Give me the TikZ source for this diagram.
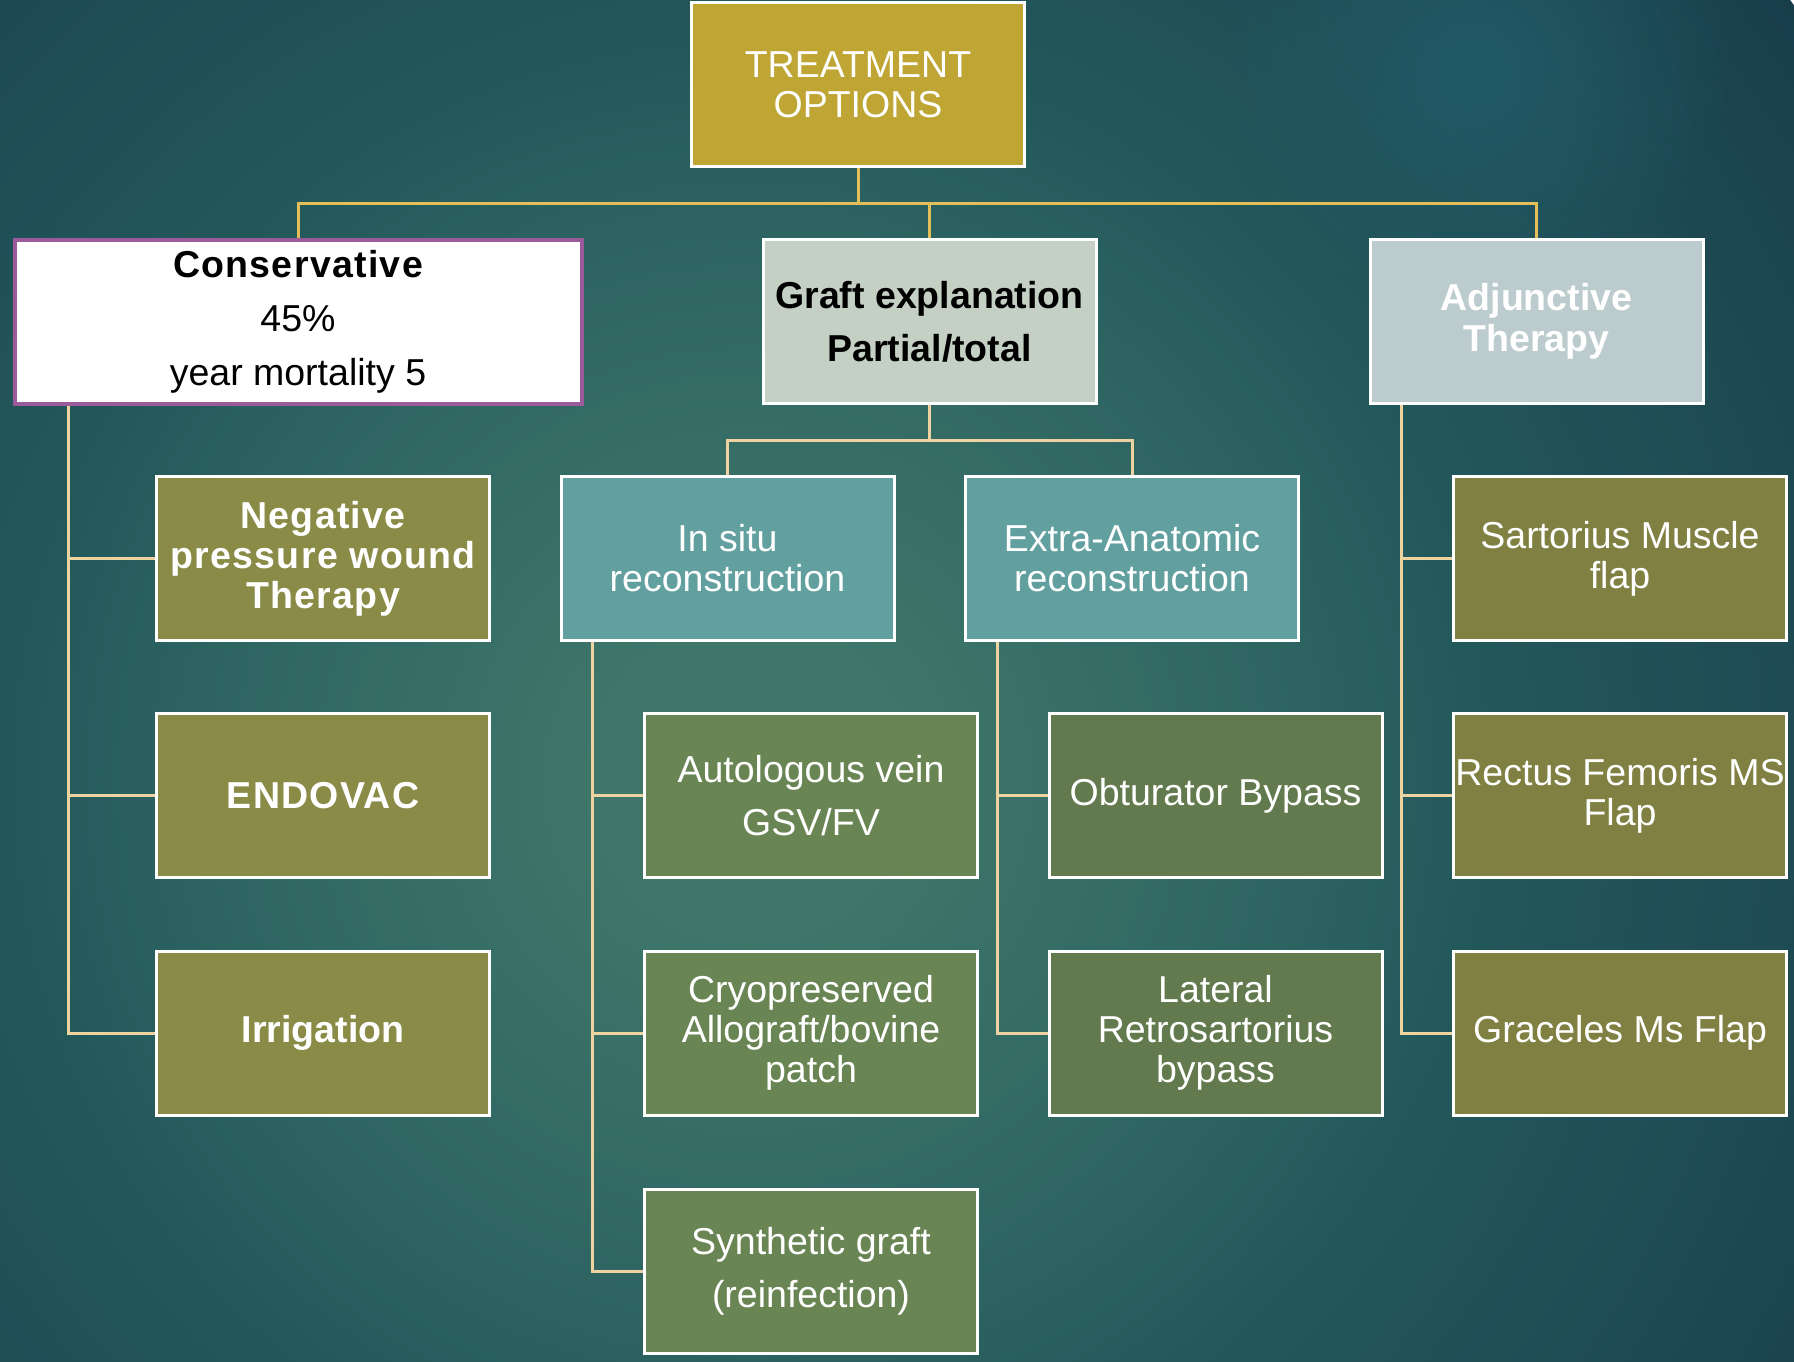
\documentclass[tikz,border=0pt]{standalone}
\usepackage{fontspec}
\setmainfont{Liberation Sans}
\newfontfamily\widesans[LetterSpace=3.5]{Liberation Sans}
\usepackage{xcolor}
\usepackage{tikz}
\usetikzlibrary{positioning,fadings}

\definecolor{bga}{HTML}{3E766A}
\definecolor{bgb}{HTML}{2D6462}
\definecolor{bgc}{HTML}{22575A}
\definecolor{bgd}{HTML}{1F4D55}
\definecolor{bge}{HTML}{183E4C}
\definecolor{glow}{HTML}{215A66}
\definecolor{gold}{HTML}{BFA533}
\definecolor{olive}{HTML}{8A8B47}
\definecolor{moss}{HTML}{6A8554}
\definecolor{sage}{HTML}{C3D0C3}
\definecolor{mist}{HTML}{BCCBCD}
\definecolor{lagoon}{HTML}{62A0A0}
\definecolor{plum}{HTML}{9B5B9B}
\definecolor{wire}{HTML}{ECD3A0}
\definecolor{wiretop}{HTML}{E4BE58}

\pgfdeclareradialshading{backdrop}{\pgfpoint{0bp}{0bp}}{%
  color(0bp)=(bga); color(3bp)=(bga); color(10.6bp)=(bgb); color(14.4bp)=(bgc);
  color(19.2bp)=(bgd); color(25bp)=(bge); color(50bp)=(bge)}
\tikzfading[name=softglow, inner color=transparent!0, outer color=transparent!100]

\begin{document}
\begin{tikzpicture}[
    x=1pt, y=-1pt,
    box/.style={draw=white, line width=3pt, minimum width=333pt, minimum height=164pt,
      inner sep=0pt, align=center, text=white, font=\fontsize{37.5}{40}\selectfont},
    option/.style={box, fill=olive},
    graftbox/.style={box, fill=moss},
    route/.style={box, fill=lagoon},
    flap/.style={box, fill=olive!92!black},
    trunk/.style={wiretop, line width=3pt},
    link/.style={wire, line width=3pt}
  ]
  \useasboundingbox (0,0) rectangle (1794,1361);
  \begin{scope}
    \clip (0,0) rectangle (1794,1361);
    \shade[shading=backdrop] (750,780) circle (1300);
    \fill[glow, path fading=softglow] (1476,69) circle (260);
  \end{scope}

  % top level
  \node[box, fill=gold] (treat) at (858,84.5) {TREATMENT\\OPTIONS};
  \node[box, fill=white, draw=plum, line width=4pt, minimum width=567pt, text=black,
    font=\fontsize{37.5}{54}\selectfont] (cons) at (298,321.5)
    {{\widesans\bfseries Conservative}\\45\%\\year mortality 5};
  \node[box, fill=sage, text=black, font=\fontsize{37.5}{53}\selectfont\bfseries] (graft) at (929.5,321.5)
    {Graft explanation\\Partial/total};
  \node[box, fill=mist, font=\fontsize{37.5}{41}\selectfont\bfseries] (adj) at (1536.5,321.5)
    {Adjunctive\\Therapy};

  % conservative branch
  \node[option, font=\fontsize{37.5}{40}\widesans\bfseries] (npwt) at (323,558.3) {Negative\\pressure wound\\Therapy};
  \node[option, font=\fontsize{37.5}{40}\widesans\bfseries] (endovac) at (323,795.7) {ENDOVAC};
  \node[option, font=\fontsize{37.5}{40}\selectfont\bfseries] (irrig) at (323,1033.1) {Irrigation};

  % graft branch
  \node[route] (insitu) at (727.5,558.3) {In situ\\reconstruction};
  \node[route] (extra) at (1132,558.3) {Extra-Anatomic\\reconstruction};
  \node[graftbox, font=\fontsize{37.5}{53}\selectfont] (auto) at (811,795.7) {Autologous vein\\GSV/FV};
  \node[graftbox] (cryo) at (811,1033.1) {Cryopreserved\\Allograft/bovine\\patch};
  \node[graftbox, font=\fontsize{37.5}{53}\selectfont] (synth) at (811,1271.1) {Synthetic graft\\(reinfection)};
  \node[graftbox, fill=moss!92!black] (obtur) at (1215.5,795.7) {Obturator Bypass};
  \node[graftbox, fill=moss!92!black] (lateral) at (1215.5,1033.1) {Lateral\\Retrosartorius\\bypass};

  % adjunctive branch
  \node[flap] (sart) at (1620,558.3) {Sartorius Muscle\\flap};
  \node[flap] (rectus) at (1620,795.7) {Rectus Femoris MS\\Flap};
  \node[flap] (gracil) at (1620,1033.1) {Graceles Ms Flap};

  % connectors
  \draw[trunk] (treat.south) -- ++(0,35) coordinate (hub);
  \draw[trunk] (hub) -| (cons.north);
  \draw[trunk] (hub) -| (graft.north);
  \draw[trunk] (hub) -| (adj.north);

  \draw[link] (graft.south) -- ++(0,35) coordinate (fork);
  \draw[link] (fork) -| (insitu.north);
  \draw[link] (fork) -| (extra.north);

  \foreach \leaf in {npwt,endovac,irrig}
    \draw[link] ([xshift=55.5pt]cons.south west) |- (\leaf.west);
  \foreach \leaf in {auto,cryo,synth}
    \draw[link] ([xshift=33pt]insitu.south west) |- (\leaf.west);
  \foreach \leaf in {obtur,lateral}
    \draw[link] ([xshift=33.5pt]extra.south west) |- (\leaf.west);
  \foreach \leaf in {sart,rectus,gracil}
    \draw[link] ([xshift=33pt]adj.south west) |- (\leaf.west);
\end{tikzpicture}
\end{document}
